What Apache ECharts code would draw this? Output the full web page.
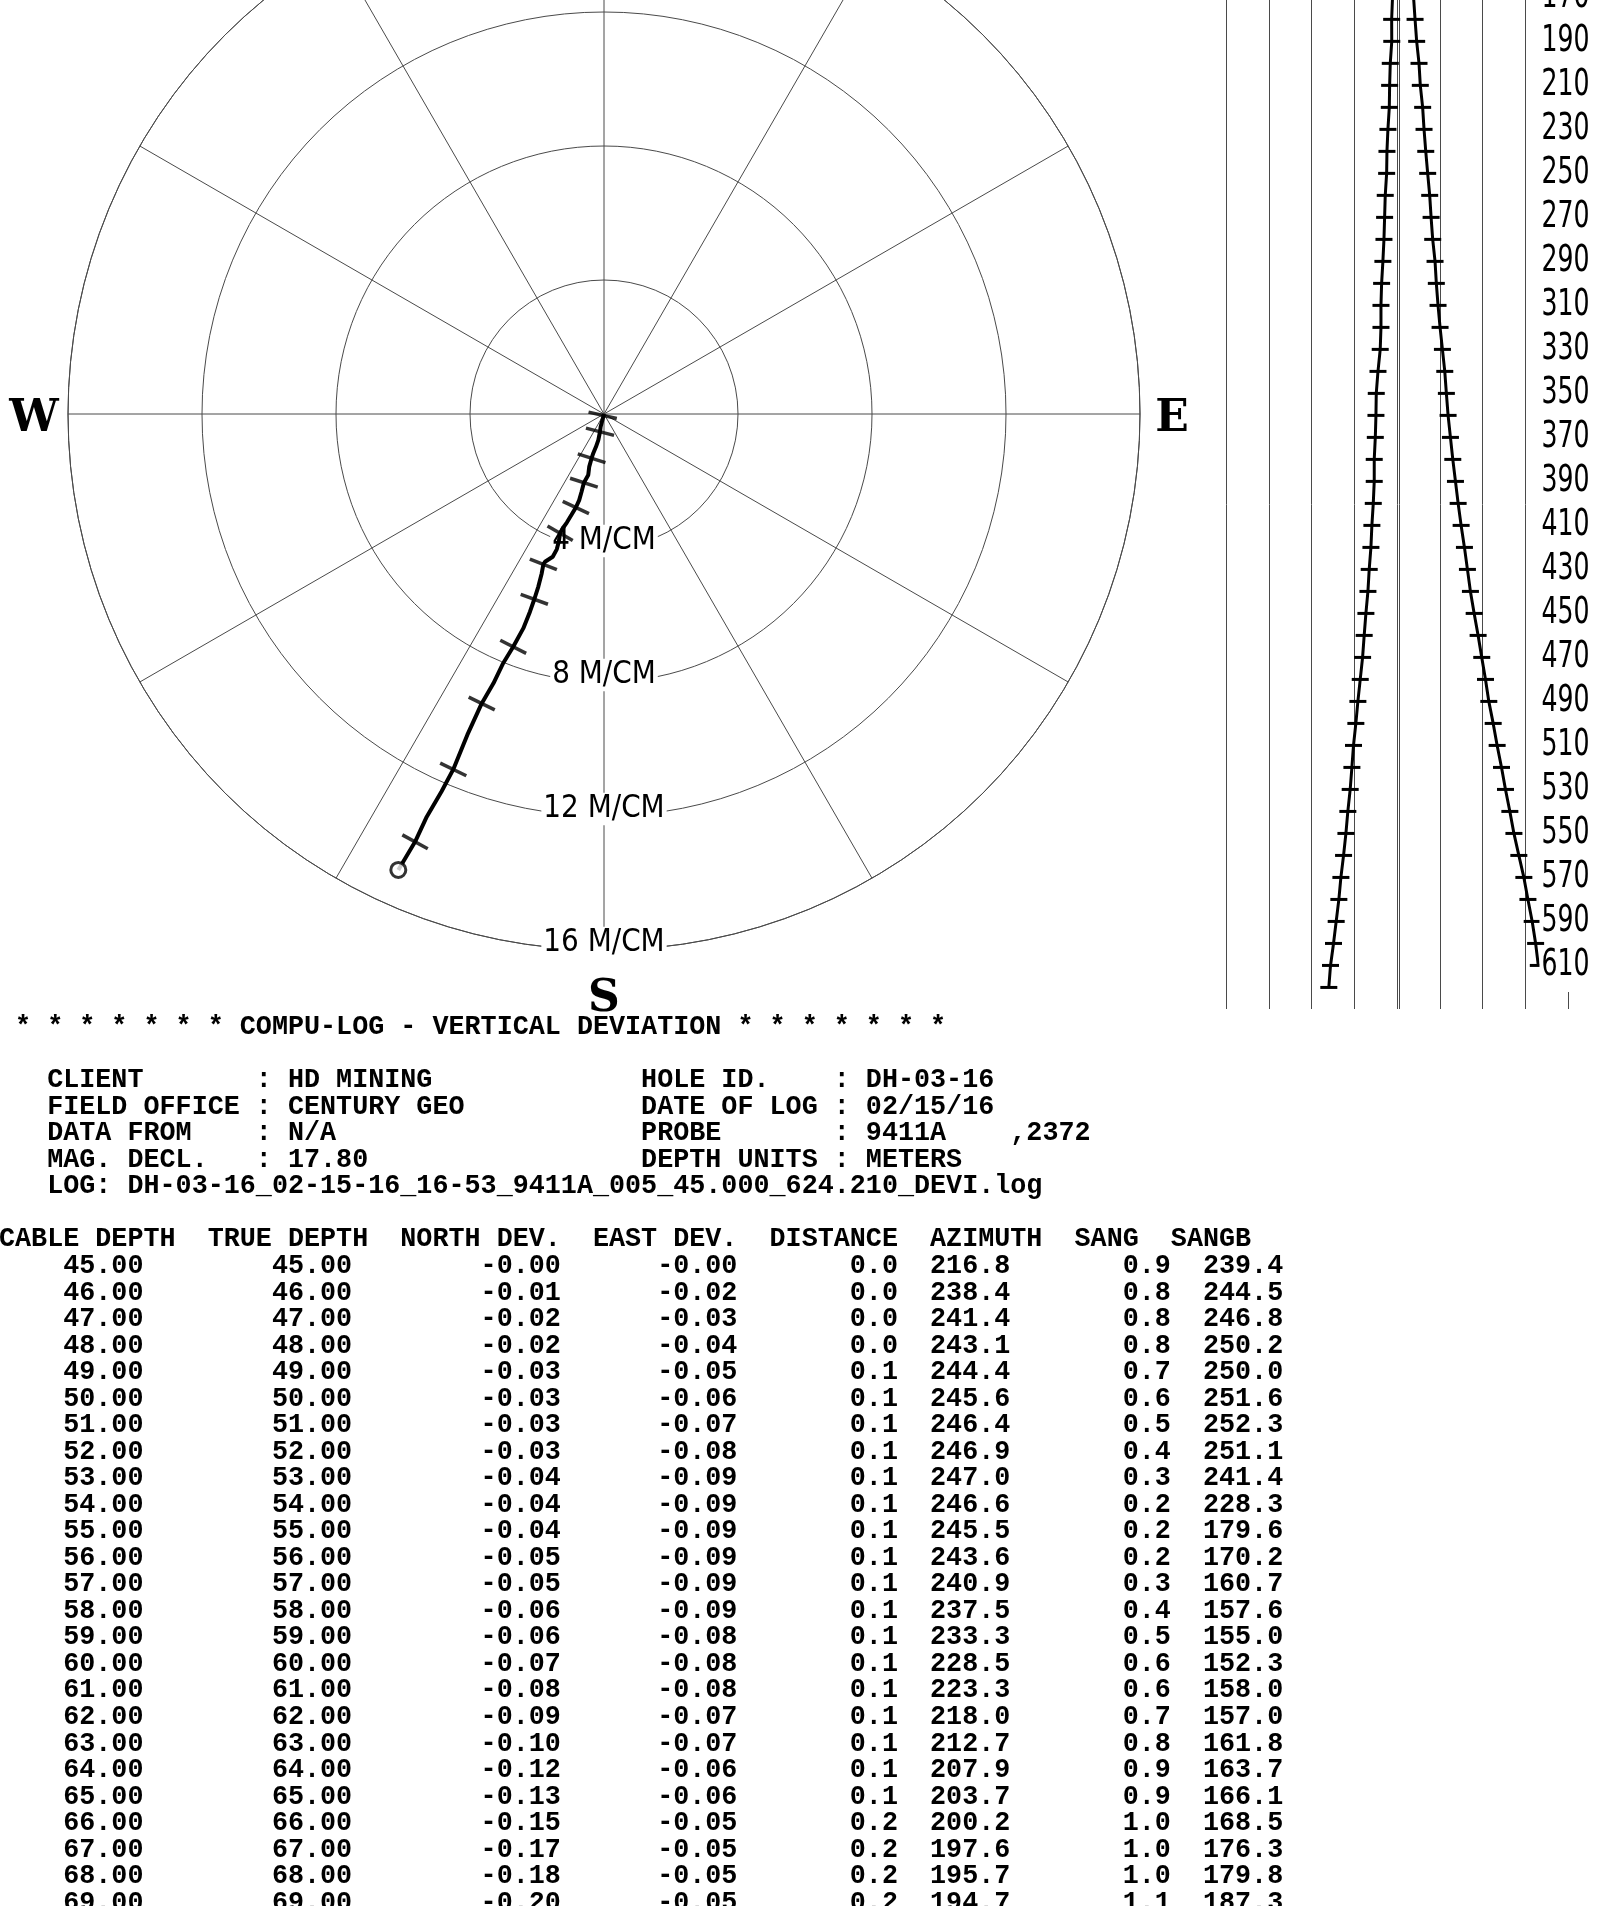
<!DOCTYPE html>
<html>
<head>
<meta charset="utf-8">
<script src="https://cdn.jsdelivr.net/npm/echarts/dist/echarts.min.js"></script>
<style>
html, body { margin: 0; padding: 0; background: #fff; }
#chart { width: 1608px; height: 1906px; }
</style>
</head>
<body>
<div id="chart"></div>
<script>
// ---- Plan view: hole track, metres east / north of the collar ----
const planEast  = [0, -0.10, -0.12, -0.17, -0.24, -0.32, -0.37, -0.44, -0.47, -0.60, -0.67, -0.74, -0.84,
  -0.97, -1.11, -1.23, -1.31, -1.35, -1.41, -1.53, -1.76, -1.81, -1.86, -1.96, -2.08, -2.21, -2.41,
  -2.71, -3.01, -3.30, -3.65, -4.08, -4.50, -4.85, -5.29, -5.64, -6.14];
const planNorth = [0, -0.38, -0.53, -0.78, -0.98, -1.17, -1.32, -1.57, -1.82, -2.05, -2.32, -2.57, -2.79,
  -3.01, -3.24, -3.41, -3.56, -3.81, -4.04, -4.26, -4.41, -4.49, -4.76, -5.15, -5.53, -5.90, -6.40,
  -6.95, -7.44, -8.04, -8.64, -9.58, -10.61, -11.27, -12.02, -12.77, -13.61];

// 50 m depth marks along the track
const tickDepths = [50, 100, 150, 200, 250, 300, 350, 400, 450, 500, 550, 600];
const tickEast   = [-0.04, -0.12, -0.37, -0.60, -0.84, -1.31, -1.81, -2.08, -2.71, -3.65, -4.50, -5.64];
const tickNorth  = [-0.04, -0.53, -1.32, -2.05, -2.79, -3.56, -4.49, -5.53, -6.95, -8.64, -10.61, -12.77];

// distance rings, metres
const ringValues = [4, 8, 12, 16];

// ---- Section panel: deviation against depth ----
const sectionDepth = [170, 180, 190, 200, 210, 220, 230, 240, 250, 260, 270, 280, 290, 300, 310, 320,
  330, 340, 350, 360, 370, 380, 390, 400, 410, 420, 430, 440, 450, 460, 470, 480, 490, 500, 510,
  520, 530, 540, 550, 560, 570, 580, 590, 600, 610, 620];
const sectionEast = [-0.42, -0.50, -0.49, -0.63, -0.69, -0.72, -0.85, -0.94, -0.97, -1.10, -1.16, -1.22,
  -1.32, -1.44, -1.50, -1.50, -1.57, -1.78, -1.94, -1.97, -2.03, -2.13, -2.13, -2.22, -2.35, -2.44,
  -2.60, -2.72, -2.91, -3.07, -3.22, -3.44, -3.66, -3.85, -4.07, -4.22, -4.38, -4.60, -4.78, -5.00,
  -5.25, -5.44, -5.69, -5.94, -6.22, -6.38];
const sectionSouth = [1.55, 1.69, 1.84, 2.06, 2.18, 2.40, 2.53, 2.69, 2.87, 3.06, 3.19, 3.34, 3.56, 3.68,
  3.84, 4.03, 4.25, 4.47, 4.62, 4.78, 5.00, 5.22, 5.47, 5.72, 6.00, 6.31, 6.59, 6.87, 7.22, 7.59,
  7.93, 8.28, 8.59, 9.00, 9.37, 9.78, 10.15, 10.56, 10.94, 11.40, 11.87, 12.25, 12.65, 12.97, 13.22, null];
const depthLabelValues = [170, 190, 210, 230, 250, 270, 290, 310, 330, 350, 370, 390, 410, 430, 450,
  470, 490, 510, 530, 550, 570, 590, 610];
const sectionGridX = [-16, -12, -8, -4, 0, 4, 8, 12];

// ---- Survey listing ----
const cableDepth = [45, 46, 47, 48, 49, 50, 51, 52, 53, 54, 55, 56, 57, 58, 59, 60, 61, 62, 63, 64, 65, 66, 67, 68, 69];
const trueDepth  = [45, 46, 47, 48, 49, 50, 51, 52, 53, 54, 55, 56, 57, 58, 59, 60, 61, 62, 63, 64, 65, 66, 67, 68, 69];
const northDev   = [-0.00, -0.01, -0.02, -0.02, -0.03, -0.03, -0.03, -0.03, -0.04, -0.04, -0.04, -0.05, -0.05,
  -0.06, -0.06, -0.07, -0.08, -0.09, -0.10, -0.12, -0.13, -0.15, -0.17, -0.18, -0.20];
const eastDev    = [-0.00, -0.02, -0.03, -0.04, -0.05, -0.06, -0.07, -0.08, -0.09, -0.09, -0.09, -0.09, -0.09,
  -0.09, -0.08, -0.08, -0.08, -0.07, -0.07, -0.06, -0.06, -0.05, -0.05, -0.05, -0.05];
const distance   = [0.0, 0.0, 0.0, 0.0, 0.1, 0.1, 0.1, 0.1, 0.1, 0.1, 0.1, 0.1, 0.1, 0.1, 0.1, 0.1, 0.1, 0.1,
  0.1, 0.1, 0.1, 0.2, 0.2, 0.2, 0.2];
const azimuth    = [216.8, 238.4, 241.4, 243.1, 244.4, 245.6, 246.4, 246.9, 247.0, 246.6, 245.5, 243.6, 240.9,
  237.5, 233.3, 228.5, 223.3, 218.0, 212.7, 207.9, 203.7, 200.2, 197.6, 195.7, 194.7];
const sang       = [0.9, 0.8, 0.8, 0.8, 0.7, 0.6, 0.5, 0.4, 0.3, 0.2, 0.2, 0.2, 0.3, 0.4, 0.5, 0.6, 0.6, 0.7,
  0.8, 0.9, 0.9, 1.0, 1.0, 1.0, 1.1];
const sangb      = [239.4, 244.5, 246.8, 250.2, 250.0, 251.6, 252.3, 251.1, 241.4, 228.3, 179.6, 170.2, 160.7,
  157.6, 155.0, 152.3, 158.0, 157.0, 161.8, 163.7, 166.1, 168.5, 176.3, 179.8, 187.3];

const headerFields = [
  [[3, 'CLIENT'], [16, ': HD MINING'], [40, 'HOLE ID.'], [52, ': DH-03-16']],
  [[3, 'FIELD OFFICE'], [16, ': CENTURY GEO'], [40, 'DATE OF LOG'], [52, ': 02/15/16']],
  [[3, 'DATA FROM'], [16, ': N/A'], [40, 'PROBE'], [52, ': 9411A'], [63, ',2372']],
  [[3, 'MAG. DECL.'], [16, ': 17.80'], [40, 'DEPTH UNITS'], [52, ': METERS']],
  [[3, 'LOG: DH-03-16_02-15-16_16-53_9411A_005_45.000_624.210_DEVI.log']]
];
const columnTitles = [[0, 'CABLE DEPTH'], [13, 'TRUE DEPTH'], [25, 'NORTH DEV.'], [37, 'EAST DEV.'],
  [48, 'DISTANCE'], [58, 'AZIMUTH'], [67, 'SANG'], [73, 'SANGB']];
const reportTitle = '* * * * * * * COMPU-LOG - VERTICAL DEVIATION * * * * * * *';

// ---- fonts ----
const NARROW = "'DejaVu Sans Condensed', 'Liberation Sans Narrow', 'DejaVu Sans', sans-serif";
const MONO = "'Liberation Mono', 'DejaVu Sans Mono', monospace";
const SERIF = "'DejaVu Serif', 'Liberation Serif', serif";

// ---- listing text helpers ----
function num(v, d) {
  const neg = v < 0 || Object.is(v, -0);
  return (neg ? '-' : '') + Math.abs(v).toFixed(d);
}
function compose(fields) {
  let s = '';
  fields.forEach(([col, txt]) => { s = s.padEnd(col) + txt; });
  return s;
}
const listing = [];
listing.push(' ' + reportTitle);
listing.push('');
headerFields.forEach(f => listing.push(compose(f)));
listing.push('');
listing.push(compose(columnTitles));
cableDepth.forEach((c, i) => {
  listing.push(
    num(c, 2).padStart(9) +
    num(trueDepth[i], 2).padStart(13) +
    num(northDev[i], 2).padStart(13) +
    num(eastDev[i], 2).padStart(11) +
    num(distance[i], 1).padStart(10) +
    num(azimuth[i], 1).padStart(7) +
    num(sang[i], 1).padStart(10) +
    num(sangb[i], 1).padStart(7)
  );
});

const LIST_X = -1, LIST_Y = 1027.5, LINE_H = 26.53, LIST_FS = 26.75;
const graphics = [];
listing.forEach((t, i) => {
  if (!t) return;
  graphics.push({
    type: 'text', silent: true, x: LIST_X, y: LIST_Y + i * LINE_H,
    style: { text: t, fontFamily: MONO, fontSize: LIST_FS, fontWeight: 'bold', fill: '#000',
      align: 'left', verticalAlign: 'middle' }
  });
});
// compass letters
[['W', 34, 420], ['E', 1172, 420], ['S', 604, 1000]].forEach(([t, x, y]) => {
  graphics.push({
    type: 'text', silent: true, x, y,
    style: { text: t, fontFamily: SERIF, fontSize: 44, fontWeight: 'bold', fill: '#000',
      align: 'center', verticalAlign: 'middle' }
  });
});

// ---- plan view tick orientation: perpendicular to the local track direction ----
const trackStart = [planEast[0], planNorth[0]];
const trackEnd = [planEast[planEast.length - 1], planNorth[planNorth.length - 1]];
const tickData = tickDepths.map((d, i) => {
  const prev = i > 0 ? [tickEast[i - 1], tickNorth[i - 1]] : trackStart;
  const next = i < tickDepths.length - 1 ? [tickEast[i + 1], tickNorth[i + 1]] : trackEnd;
  const ang = Math.atan2(next[1] - prev[1], next[0] - prev[0]) * 180 / Math.PI;
  return { value: [tickEast[i], tickNorth[i]], symbolRotate: ang };
});

// text drawn at a data point, optionally stretched vertically
function labelRenderer(textOf, dx, dy, size, stretch) {
  return function (params, api) {
    const p = api.coord([api.value(0), api.value(1)]);
    return {
      type: 'text', x: p[0] + dx, y: p[1] + dy, scaleY: stretch,
      style: {
        text: textOf(api.value(0), api.value(1)), fontFamily: NARROW, fontSize: size, fill: '#000',
        align: 'center', verticalAlign: 'middle', backgroundColor: '#fff', padding: [0, 2]
      }
    };
  };
}

const GRID_COLOR = '#4a4a4a';

// plan view scale: 33.5 px per metre, centre at (604, 414)
const PLAN_TOP_NORTH = 414 / 33.5;
// section scale: 2.2 px per metre of depth, depth 171.2 at the top edge
const SECTION_TOP = 171.2, SECTION_BOTTOM = 629.8;

const chart = echarts.init(document.getElementById('chart'), null, { renderer: 'canvas' });
chart.setOption({
  animation: false,
  backgroundColor: '#fff',
  polar: { center: [604, 414], radius: 536 },
  angleAxis: {
    type: 'value', min: 0, max: 360, interval: 30, startAngle: 90, clockwise: true,
    axisLine: { show: true, lineStyle: { color: GRID_COLOR, width: 1 } },
    axisTick: { show: false }, axisLabel: { show: false },
    splitLine: { show: true, lineStyle: { color: GRID_COLOR, width: 1 } }
  },
  radiusAxis: {
    type: 'value', min: 0, max: 16, interval: 4,
    axisLine: { show: false }, axisTick: { show: false }, axisLabel: { show: false },
    splitLine: { show: true, lineStyle: { color: GRID_COLOR, width: 1 } }
  },
  grid: [
    { left: 68, top: 0, width: 1072, height: 950 },
    { left: 1226, top: 0, width: 342, height: 1009 }
  ],
  xAxis: [
    { gridIndex: 0, type: 'value', min: -16, max: 16, show: false },
    {
      gridIndex: 1, type: 'value', min: -16, max: 16, interval: 4, position: 'bottom',
      axisLine: { show: false }, axisLabel: { show: false }, splitLine: { show: false },
      axisTick: { show: true, inside: true, length: 17, lineStyle: { color: GRID_COLOR, width: 1 } }
    }
  ],
  yAxis: [
    { gridIndex: 0, type: 'value', min: -16, max: PLAN_TOP_NORTH, show: false },
    { gridIndex: 1, type: 'value', min: SECTION_TOP, max: SECTION_BOTTOM, inverse: true, show: false }
  ],
  graphic: graphics,
  series: [
    {
      name: 'rings', type: 'custom', xAxisIndex: 0, yAxisIndex: 0, z: 2,
      data: ringValues.map(r => [0, -r]),
      renderItem: labelRenderer((x, y) => (-y) + ' M/CM', 0, -7, 31, 1.05)
    },
    {
      name: 'track', type: 'line', xAxisIndex: 0, yAxisIndex: 0, z: 3,
      data: planEast.map((e, i) => [e, planNorth[i]]),
      showSymbol: false, lineStyle: { color: '#000', width: 4 }
    },
    {
      name: 'depth marks', type: 'scatter', xAxisIndex: 0, yAxisIndex: 0, z: 4,
      data: tickData, symbol: 'rect', symbolSize: [3.5, 29], itemStyle: { color: '#000' }
    },
    {
      name: 'bottom', type: 'scatter', xAxisIndex: 0, yAxisIndex: 0, z: 5,
      data: [trackEnd], symbol: 'circle', symbolSize: 15,
      itemStyle: { color: '#fff', borderColor: '#000', borderWidth: 3 }
    },
    {
      name: 'section grid', type: 'line', xAxisIndex: 1, yAxisIndex: 1, z: 1, data: [],
      markLine: {
        silent: true, symbol: ['none', 'none'], z: 1, label: { show: false },
        lineStyle: { color: GRID_COLOR, width: 1, type: 'solid' },
        data: sectionGridX.map(v => ({ xAxis: v })).concat([{ xAxis: 0.18 }])
      }
    },
    {
      name: 'east', type: 'line', xAxisIndex: 1, yAxisIndex: 1, z: 3,
      data: sectionDepth.map((d, i) => [sectionEast[i], d]),
      symbol: 'rect', symbolSize: [17, 3], showAllSymbol: true,
      itemStyle: { color: '#000' }, lineStyle: { color: '#000', width: 3 }
    },
    {
      name: 'south', type: 'line', xAxisIndex: 1, yAxisIndex: 1, z: 3,
      data: sectionDepth.map((d, i) => [sectionSouth[i], d]),
      symbol: 'rect', symbolSize: [17, 3], showAllSymbol: true,
      itemStyle: { color: '#000' }, lineStyle: { color: '#000', width: 3 }
    },
    {
      name: 'depth labels', type: 'custom', xAxisIndex: 1, yAxisIndex: 1, z: 10, clip: false,
      data: depthLabelValues.map(d => [16, d]),
      renderItem: labelRenderer((x, y) => String(y), -2.5, 0.5, 28, 1.3)
    }
  ]
});
</script>
</body>
</html>
